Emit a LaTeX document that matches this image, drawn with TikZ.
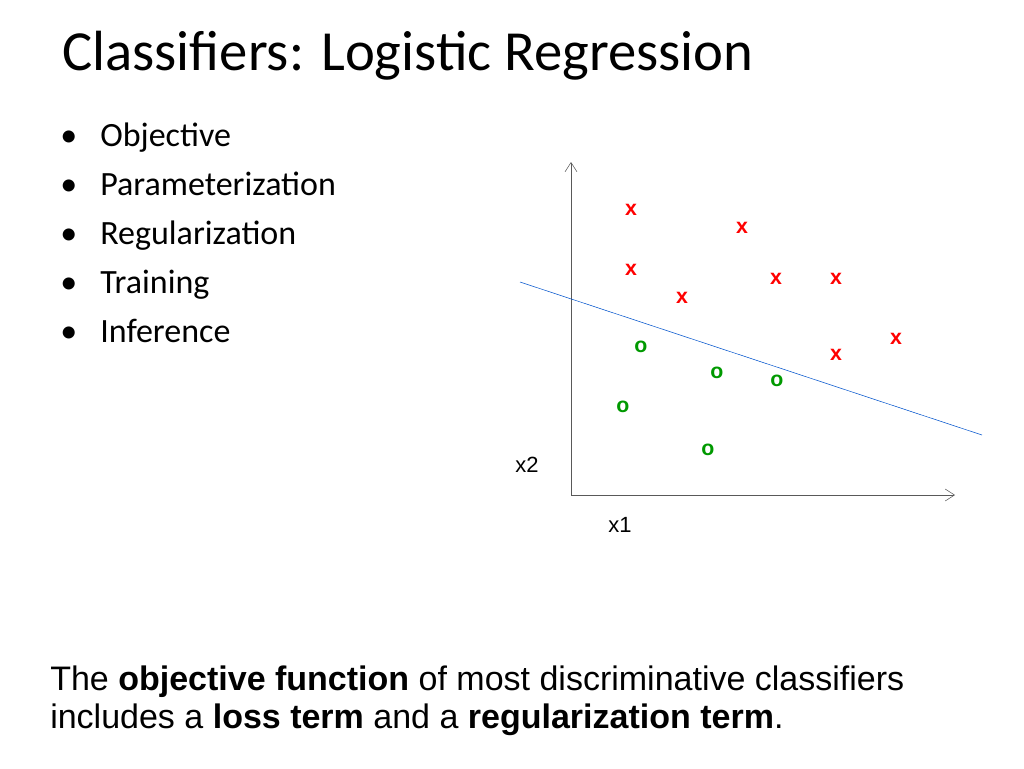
\documentclass[tikz,border=0pt]{standalone}
\usepackage{fontspec}
\usetikzlibrary{arrows.meta}
\setmainfont{Liberation Sans}
\newfontfamily\calfont{Carlito}
\begin{document}
\begin{tikzpicture}[x=0.75pt,y=-0.75pt,
  xm/.style={text=red,font=\bfseries\fontsize{16}{16}\selectfont,inner sep=0},
  om/.style={text=green!60!black,font=\bfseries\fontsize{16}{16}\selectfont,inner sep=0},
  bul/.style={anchor=base west,font=\calfont\fontsize{25.5}{30}\selectfont,inner sep=0}]
\useasboundingbox (0,0) rectangle (1024,768);
\node[anchor=base west,inner sep=0,font=\calfont\fontsize{42.5}{46}\selectfont] (title) at (62,70) {Classifiers: Logistic Regression};
\foreach \t [count=\i] in {Objective,Parameterization,Regularization,Training,Inference}{
  \node[bul] (b\i) at (100,97+49*\i) {\t};
  \node[bul] at (60,97+49*\i) {•};
}
\coordinate (o) at (571,495);
\coordinate (ytop) at (571,162);
\coordinate (xend) at (955,495);
\draw[-{Straight Barb[length=7pt,width=9pt]},gray!70!black] (o) -- (ytop);
\draw[-{Straight Barb[length=7pt,width=9pt]},gray!70!black] (o) -- (xend);
\coordinate (l1) at (520,282); \coordinate (l2) at (982,435);
\draw[blue!60!cyan!80!black] (l1) -- (l2);
\foreach \p [count=\i] in {(631,210),(742,228),(631,270),(776,279),(836,279),(682,298),(896,339),(836,355)}
  \node[xm] (x\i) at \p {x};
\foreach \p [count=\i] in {(641,347),(717,373),(777,381),(623,407),(708,450)}
  \node[om] (o\i) at \p {o};
\node[font=\fontsize{16.5}{16}\selectfont] (x2) at (527,465) {x2};
\node[font=\fontsize{16.5}{16}\selectfont] (x1) at (620,525) {x1};
\node[anchor=north west,align=left,inner sep=0,font=\fontsize{25.5}{28.5}\selectfont] (cap) at (50,666)
 {The \textbf{objective function} of most discriminative classifiers\\includes a \textbf{loss term} and a \textbf{regularization term}.};
\end{tikzpicture}
\end{document}
